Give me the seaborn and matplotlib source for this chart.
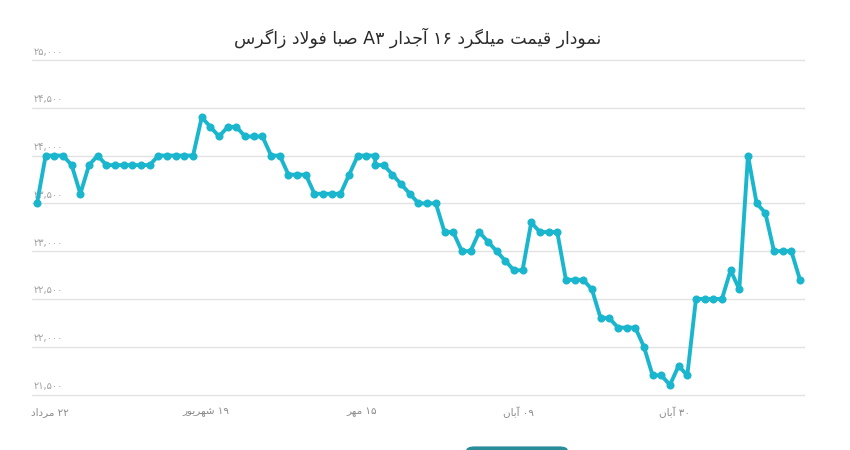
import numpy as np
import pandas as pd
import matplotlib
matplotlib.use("Agg")
import matplotlib.pyplot as plt
import matplotlib.transforms as mtrans
from matplotlib.patches import FancyBboxPatch
import seaborn as sns

# ---------------- data ----------------
title_text = "نمودار قیمت میلگرد ۱۶ آجدار A۳ صبا فولاد زاگرس"

# trading-day index of each record (day 39 carries two records)
day_index = list(range(0, 40)) + list(range(39, 89))
prices = [
    23500, 24000, 24000, 24000, 23900, 23600, 23900, 24000, 23900, 23900,
    23900, 23900, 23900, 23900, 24000, 24000, 24000, 24000, 24000, 24400,
    24300, 24200, 24300, 24300, 24200, 24200, 24200, 24000, 24000, 23800,
    23800, 23800, 23600, 23600, 23600, 23600, 23800, 24000, 24000, 24000,
    23900,
    23900, 23800, 23700, 23600, 23500, 23500, 23500, 23200, 23200, 23000,
    23000, 23200, 23100, 23000, 22900, 22800, 22800, 23300, 23200, 23200,
    23200, 22700, 22700, 22700, 22600, 22300, 22300, 22200, 22200, 22200,
    22000, 21700, 21700, 21600, 21800, 21700, 22500, 22500, 22500, 22500,
    22800, 22600, 24000, 23500, 23400, 23000, 23000, 23000, 22700,
]

x_tick_days = [0, 18, 36, 54, 72]
x_tick_labels = ["۲۲ مرداد", "۱۹ شهریور", "۱۵ مهر", "۰۹ آبان", "۳۰ آبان"]

y_ticks = [21500, 22000, 22500, 23000, 23500, 24000, 24500, 25000]
y_tick_labels = ["۲۱,۵۰۰", "۲۲,۰۰۰", "۲۲,۵۰۰", "۲۳,۰۰۰",
                 "۲۳,۵۰۰", "۲۴,۰۰۰", "۲۴,۵۰۰", "۲۵,۰۰۰"]

# ---------------- minimal Persian shaping / RTL ordering ----------------
# (isolated, final, initial, medial)
FORMS = {
    '\u0627': ('\uFE8D', '\uFE8E', None, None),      # ا
    '\u0622': ('\uFE81', '\uFE82', None, None),      # آ
    '\u0628': ('\uFE8F', '\uFE90', '\uFE91', '\uFE92'),  # ب
    '\u067E': ('\uFB56', '\uFB57', '\uFB58', '\uFB59'),  # پ
    '\u062A': ('\uFE95', '\uFE96', '\uFE97', '\uFE98'),  # ت
    '\u062C': ('\uFE9D', '\uFE9E', '\uFE9F', '\uFEA0'),  # ج
    '\u062F': ('\uFEA9', '\uFEAA', None, None),      # د
    '\u0631': ('\uFEAD', '\uFEAE', None, None),      # ر
    '\u0632': ('\uFEAF', '\uFEB0', None, None),      # ز
    '\u0633': ('\uFEB1', '\uFEB2', '\uFEB3', '\uFEB4'),  # س
    '\u0634': ('\uFEB5', '\uFEB6', '\uFEB7', '\uFEB8'),  # ش
    '\u0635': ('\uFEB9', '\uFEBA', '\uFEBB', '\uFEBC'),  # ص
    '\u0641': ('\uFED1', '\uFED2', '\uFED3', '\uFED4'),  # ف
    '\u0642': ('\uFED5', '\uFED6', '\uFED7', '\uFED8'),  # ق
    '\u0644': ('\uFEDD', '\uFEDE', '\uFEDF', '\uFEE0'),  # ل
    '\u0645': ('\uFEE1', '\uFEE2', '\uFEE3', '\uFEE4'),  # م
    '\u0646': ('\uFEE5', '\uFEE6', '\uFEE7', '\uFEE8'),  # ن
    '\u0647': ('\uFEE9', '\uFEEA', '\uFEEB', '\uFEEC'),  # ه
    '\u0648': ('\uFEED', '\uFEEE', None, None),      # و
    '\u06CC': ('\uFBFC', '\uFBFD', '\uFBFE', '\uFBFF'),  # ی
    '\u06AF': ('\uFB92', '\uFB93', '\uFB94', '\uFB95'),  # گ
    '\u06A9': ('\uFB8E', '\uFB8F', '\uFB90', '\uFB91'),  # ک
}
LAM_ALEF = {'\u0627': ('\uFEFB', '\uFEFC'), '\u0622': ('\uFEF5', '\uFEF6')}


def joins_next(c):
    return c in FORMS and FORMS[c][2] is not None


def shape_word(word):
    out = []
    n = len(word)
    i = 0
    while i < n:
        c = word[i]
        if c not in FORMS:
            out.append(c)
            i += 1
            continue
        prev = i > 0 and joins_next(word[i - 1])
        if c == '\u0644' and i + 1 < n and word[i + 1] in LAM_ALEF:
            iso, fin = LAM_ALEF[word[i + 1]]
            out.append(fin if prev else iso)
            i += 2
            continue
        nxt = i + 1 < n and word[i + 1] in FORMS and joins_next(c)
        iso, fin, ini, med = FORMS[c]
        if prev and nxt:
            out.append(med)
        elif prev:
            out.append(fin)
        elif nxt:
            out.append(ini)
        else:
            out.append(iso)
        i += 1
    return "".join(out)


def is_arabic_token(tok):
    return any(ch in FORMS for ch in tok)


def rtl(text):
    toks = text.split(" ")
    vis = []
    for t in reversed(toks):
        if is_arabic_token(t):
            vis.append(shape_word(t)[::-1])
        else:
            vis.append(t)
    return " ".join(vis)


# ---------------- plotting ----------------
sns.set_style("white")
plt.rcParams['font.family'] = ['DejaVu Sans']

W, H = 850, 450
fig = plt.figure(figsize=(W / 100, H / 100), dpi=100)

# axes placement (pixel geometry of the reference)
x_left_px, x_right_px = 32, 805
y_top_px, y_bot_px = 60, 394.5       # 25000 / 21500 grid lines
ppu = (y_bot_px - y_top_px) / 3500.0
ext = 100
ax_bot = (H - (y_bot_px + ext * ppu)) / H
ax_top = (H - (y_top_px - ext * ppu)) / H
ax = fig.add_axes([x_left_px / W, ax_bot, (x_right_px - x_left_px) / W, ax_top - ax_bot])

df = pd.DataFrame({"day": day_index, "price": prices})
line_color = "#1ab6cd"
sns.lineplot(data=df, x="day", y="price", ax=ax, estimator=None, sort=False,
             color=line_color, linewidth=2.8, marker="o", markersize=5.8,
             markeredgewidth=0, markerfacecolor=line_color, zorder=3)

# x limits so that first/last points sit at 37 px / 800 px
units_per_px = 88.0 / (800 - 37)
ax.set_xlim(-(37 - x_left_px) * units_per_px, 88 + (x_right_px - 800) * units_per_px)
ax.set_ylim(21500 - ext, 25000 + ext)

for s in ax.spines.values():
    s.set_visible(False)

ax.set_yticks(y_ticks)
ax.set_yticklabels(y_tick_labels)
ax.yaxis.grid(True, color="#e2e2e2", linewidth=1.0)
ax.xaxis.grid(False)
ax.tick_params(axis="y", length=0, pad=-1.5, labelsize=7, labelcolor="#a0a0a0")
for lab in ax.get_yticklabels():
    lab.set_horizontalalignment("left")
    lab.set_verticalalignment("bottom")
    lab.set_transform(lab.get_transform() + mtrans.ScaledTranslation(0, 2.5 / 72, fig.dpi_scale_trans))

ax.set_xticks(x_tick_days)
ax.set_xticklabels([rtl(t) for t in x_tick_labels])
ax.tick_params(axis="x", length=0, pad=2, labelsize=7.5, labelcolor="#8a8a8a")
for lab in ax.get_xticklabels():
    lab.set_transform(lab.get_transform() + mtrans.ScaledTranslation(13 / 100, 0, fig.dpi_scale_trans))

ax.set_xlabel("")
ax.set_ylabel("")

fig.text(418 / W, 1 - 38 / H, rtl(title_text), ha="center", va="center",
         fontsize=12.5, color="#2a2a2a")

# partially visible button at the bottom of the screenshot
fig.patches.append(FancyBboxPatch((466 / W, -0.02), 102 / W, 0.028,
                                  boxstyle="round,pad=0,rounding_size=0.01",
                                  transform=fig.transFigure, facecolor="#2b8c9a",
                                  edgecolor="none"))

fig.savefig("out.png", dpi=100)
